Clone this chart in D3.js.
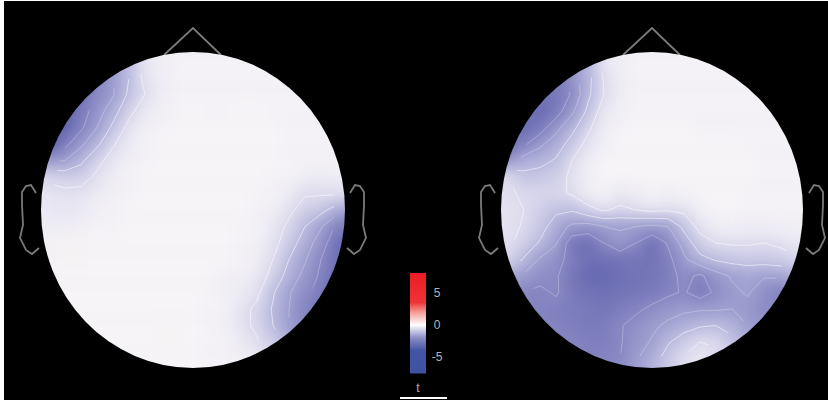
<!DOCTYPE html>
<html>
<head>
<meta charset="utf-8">
<script src="https://cdn.jsdelivr.net/npm/d3@7"></script>
<style>
  html, body { margin: 0; padding: 0; background: #000; }
  svg { display: block; }
  .cbar text { font-family: "Liberation Sans", Arial, sans-serif; font-size: 12px; fill: #b4b4b4; }
</style>
</head>
<body>
<div id="chart"></div>
<script>
// t values, one row per line, front of the head on top
var leftMap = [
  [-3.5,-4.0,-4.4,-4.6,-4.4,-3.0,-1.8,-0.5,-0.2,-0.1,-0.1,-0.1,-0.1,-0.1,-0.1,-0.1,-0.1,-0.1,-0.1,-0.1,-0.1],
  [-4.0,-4.4,-4.6,-4.6,-4.3,-3.0,-1.9,-0.6,-0.3,-0.1,-0.1,-0.1,-0.1,-0.1,-0.1,-0.1,-0.1,-0.1,-0.1,-0.1,-0.1],
  [-4.4,-4.8,-5.0,-4.8,-4.2,-3.0,-2.0,-0.7,-0.3,-0.1,-0.1,-0.1,-0.1,-0.1,-0.1,-0.1,-0.1,-0.1,-0.1,-0.1,-0.1],
  [-4.8,-5.0,-5.0,-4.8,-4.0,-3.1,-1.8,-1.0,-0.3,-0.1,-0.1,-0.1,-0.1,-0.1,-0.1,-0.1,-0.1,-0.1,-0.1,-0.1,-0.1],
  [-5.0,-5.0,-5.2,-4.5,-3.5,-2.4,-1.3,-0.4,-0.2,-0.1,0.0,-0.1,-0.1,0.0,0.0,-0.1,-0.1,-0.1,-0.1,-0.1,-0.1],
  [-5.5,-5.5,-5.3,-4.2,-3.0,-1.8,-0.7,-0.2,-0.1,0.0,0.0,0.0,0.0,0.0,0.0,0.0,-0.1,-0.1,-0.1,-0.1,-0.1],
  [-5.6,-5.6,-4.3,-3.2,-2.2,-1.1,-0.4,-0.1,0.0,0.0,0.0,0.0,0.0,0.0,0.0,0.0,-0.1,-0.1,-0.1,-0.1,-0.1],
  [-3.2,-3.2,-3.0,-2.2,-1.3,-0.6,-0.2,-0.1,0.0,0.0,0.0,0.0,0.0,0.0,0.0,0.0,-0.1,-0.1,-0.1,-0.1,-0.1],
  [-1.0,-1.2,-1.4,-1.4,-0.8,-0.3,-0.1,0.0,0.0,0.0,0.0,0.0,0.0,0.0,0.0,-0.1,-0.1,-0.3,-0.4,-0.3,-0.2],
  [-0.5,-0.7,-0.8,-0.7,-0.4,-0.2,-0.1,0.0,0.0,0.0,0.0,0.0,0.0,0.0,-0.1,-0.1,-0.4,-0.9,-0.9,-0.9,-0.8],
  [-0.4,-0.5,-0.6,-0.45,-0.2,-0.1,0.0,0.0,0.0,0.0,0.0,0.0,0.0,0.0,-0.1,-0.3,-0.8,-1.4,-1.7,-2.5,-3.0],
  [-0.2,-0.3,-0.3,-0.2,-0.1,-0.1,0.0,0.0,0.0,0.0,0.0,0.0,0.0,-0.1,-0.1,-0.5,-1.2,-2.0,-2.9,-4.2,-4.5],
  [-0.1,-0.1,0.1,0.1,0.0,0.0,0.0,0.0,0.0,0.0,0.0,0.0,0.0,-0.1,-0.2,-0.7,-1.5,-2.5,-3.5,-4.8,-5.0],
  [-0.1,-0.1,0.1,0.1,0.0,0.0,0.0,0.0,0.0,0.0,0.0,0.0,0.0,-0.1,-0.3,-1.0,-2.0,-2.9,-4.0,-4.8,-4.8],
  [-0.1,-0.1,0.0,0.0,0.0,0.0,0.0,0.0,0.0,0.0,0.0,0.0,-0.2,-0.2,-0.5,-1.3,-2.4,-3.3,-4.2,-5.0,-5.0],
  [-0.1,-0.1,0.0,0.0,0.0,0.0,0.0,0.0,0.0,0.0,0.0,-0.1,-0.2,-0.4,-0.8,-1.9,-2.9,-3.7,-4.5,-4.8,-4.8],
  [-0.1,-0.1,0.0,0.0,0.0,0.0,0.0,0.0,0.0,0.0,0.0,-0.1,-0.1,-0.7,-1.2,-2.1,-3.0,-4.2,-4.6,-4.6,-4.6],
  [-0.1,-0.1,0.0,0.0,0.0,0.0,0.0,0.0,0.1,0.1,0.0,-0.1,-0.2,-0.7,-1.2,-2.0,-3.0,-4.0,-4.2,-4.2,-4.2],
  [-0.1,-0.1,0.0,0.0,0.0,0.0,0.0,0.0,0.1,0.1,0.0,-0.1,-0.1,-0.4,-0.9,-1.5,-2.3,-3.0,-3.2,-3.2,-3.2],
  [-0.1,-0.1,0.0,0.0,0.0,0.0,0.0,0.0,0.0,0.0,0.0,-0.1,-0.1,-0.2,-0.4,-0.7,-1.2,-1.8,-2.0,-2.0,-2.0],
  [-0.1,-0.1,0.0,0.0,0.0,0.0,0.0,0.0,0.0,0.0,0.0,-0.1,-0.1,-0.2,-0.4,-0.7,-1.2,-1.8,-2.0,-2.0,-2.0]
];

var rightMap = [
  [-4.2,-4.4,-4.4,-4.4,-4.4,-3.5,-2.2,-0.5,-0.2,-0.1,-0.1,-0.1,-0.1,-0.1,-0.1,-0.1,-0.1,-0.1,-0.1,-0.1,-0.1],
  [-4.2,-4.4,-4.4,-4.4,-4.4,-3.5,-2.2,-0.6,-0.2,-0.1,-0.1,-0.1,-0.1,-0.1,-0.1,-0.1,-0.1,-0.1,-0.1,-0.1,-0.1],
  [-4.4,-4.5,-4.5,-4.5,-4.5,-3.5,-2.3,-0.9,-0.3,-0.1,-0.1,-0.1,-0.1,-0.1,-0.1,-0.1,-0.1,-0.1,-0.1,-0.1,-0.1],
  [-4.5,-4.6,-4.6,-4.6,-4.6,-3.9,-2.2,-1.0,-0.35,-0.1,-0.1,-0.1,-0.1,-0.1,-0.1,-0.1,-0.1,-0.1,-0.1,-0.1,-0.1],
  [-4.6,-4.6,-4.6,-5.0,-4.5,-3.2,-1.8,-0.5,-0.2,-0.1,-0.1,-0.1,-0.1,-0.1,-0.1,-0.1,-0.1,-0.1,-0.1,-0.1,-0.1],
  [-4.2,-4.2,-5.0,-4.5,-3.3,-2.3,-1.2,-0.3,-0.1,0.0,0.0,0.0,0.0,-0.1,-0.1,-0.1,-0.1,-0.1,-0.1,-0.1,-0.1],
  [-4.8,-5.0,-4.2,-3.2,-2.5,-1.6,-0.7,-0.2,0.0,0.0,0.0,0.0,0.0,0.0,0.0,0.0,-0.1,-0.1,-0.1,-0.1,-0.1],
  [-3.4,-3.4,-2.5,-2.3,-1.9,-1.0,-0.3,0.0,0.0,0.0,0.0,0.0,0.0,0.0,0.0,0.0,0.0,-0.1,-0.1,-0.1,-0.1],
  [-1.0,-1.0,-1.7,-1.6,-1.4,-0.8,-0.2,0.0,0.0,0.0,0.0,0.0,0.0,0.0,0.0,0.0,0.0,-0.1,-0.1,-0.1,-0.1],
  [-0.8,-0.9,-1.1,-1.2,-1.2,-0.9,-0.3,-0.1,-0.5,-0.3,-0.1,-0.2,-0.1,0.0,0.0,0.0,-0.1,-0.1,-0.1,-0.1,-0.1],
  [-0.7,-0.7,-1.0,-1.4,-1.8,-1.9,-1.3,-0.9,-1.2,-1.0,-0.8,-0.9,-0.8,-0.2,0.0,0.0,-0.1,-0.1,-0.1,-0.1,-0.1],
  [-0.7,-0.7,-1.1,-1.6,-2.5,-3.2,-3.4,-3.0,-2.9,-3.0,-3.2,-3.0,-1.7,-0.7,-0.3,-0.2,-0.3,-0.3,-0.2,-0.2,-0.2],
  [-0.8,-0.8,-1.4,-2.1,-2.9,-4.6,-4.8,-4.0,-3.3,-4.0,-4.8,-3.9,-2.6,-1.4,-1.0,-0.9,-0.9,-1.0,-0.8,-0.5,-0.5],
  [-1.2,-1.2,-2.1,-3.1,-3.6,-4.4,-4.8,-4.8,-4.7,-4.6,-4.7,-4.3,-3.2,-2.3,-1.9,-1.7,-1.6,-1.6,-1.5,-1.2,-1.2],
  [-2.6,-2.6,-3.2,-3.7,-3.9,-4.6,-5.0,-5.0,-4.8,-4.7,-4.6,-4.4,-3.7,-4.2,-3.4,-2.9,-2.7,-2.9,-2.8,-2.3,-2.3],
  [-3.8,-3.8,-4.0,-4.2,-3.9,-4.5,-4.7,-4.8,-4.7,-4.6,-4.5,-4.2,-3.9,-4.5,-3.8,-3.2,-2.9,-3.7,-4.3,-3.8,-3.8],
  [-4.2,-4.2,-4.2,-4.2,-4.3,-4.4,-4.5,-4.6,-4.4,-4.2,-3.8,-3.4,-3.2,-3.1,-3.1,-3.0,-3.3,-3.9,-3.9,-3.9,-3.9],
  [-4.2,-4.2,-4.2,-4.2,-4.2,-4.3,-4.5,-4.4,-4.1,-3.6,-3.2,-2.8,-2.4,-2.1,-2.0,-2.3,-3.0,-3.3,-3.3,-3.3,-3.3],
  [-4.2,-4.2,-4.2,-4.2,-4.2,-4.2,-4.3,-4.3,-4.1,-3.4,-2.9,-2.1,-1.5,-1.0,-1.1,-1.8,-2.4,-2.6,-2.6,-2.6,-2.6],
  [-4.2,-4.2,-4.2,-4.2,-4.2,-4.2,-4.2,-4.2,-4.0,-3.1,-2.4,-1.6,-0.9,-0.5,-0.8,-1.4,-2.0,-2.2,-2.2,-2.2,-2.2],
  [-4.2,-4.2,-4.2,-4.2,-4.2,-4.2,-4.2,-4.2,-4.0,-3.1,-2.4,-1.6,-0.9,-0.5,-0.8,-1.4,-2.0,-2.2,-2.2,-2.2,-2.2]
];

var contourLevels = [-1, -2, -3, -4];
var colorbarTicks = [5, 0, -5];

// the maps are paler than the bar in the picture, so each has its own ramp
var mapDomain = [-5.6, -5, -4, -3, -2, -1, 0, 1];
var mapRange = ["#5a5ca8", "#686ab2", "#8a8ac4", "#9e9ed0", "#bcbce0", "#dedcee", "#f6f4f7", "#f9e6e4"];
var barDomain = [-7.5, -4, -2, 0, 2, 3.5, 8.1];
var barRange = ["#3f51a3", "#4454a4", "#8c8ec6", "#ffffff", "#f59a94", "#ee3338", "#ec1c24"];

var svgWidth = 828;
var svgHeight = 400;

var svg = d3.select("#chart")
  .append("svg")
  .attr("width", svgWidth)
  .attr("height", svgHeight);

svg.append("rect").attr("width", svgWidth).attr("height", svgHeight).attr("fill", "#000");
// scan leftovers on the picture edge
svg.append("rect").attr("width", 4).attr("height", svgHeight).attr("fill", "#fff");
svg.append("rect").attr("width", svgWidth).attr("height", 1).attr("fill", "#fff");
svg.append("rect").attr("x", 400).attr("y", 397).attr("width", 47).attr("height", 2).attr("fill", "#fff");

var mapColor = d3.scaleLinear().domain(mapDomain).range(mapRange);
var barColor = d3.scaleLinear().domain(barDomain).range(barRange);

var defs = svg.append("defs");
var blur = defs.append("filter").attr("id", "smooth")
  .attr("x", "-5%").attr("y", "-5%").attr("width", "110%").attr("height", "110%")
  .attr("color-interpolation-filters", "sRGB");
blur.append("feGaussianBlur").attr("stdDeviation", 7);

// ear outline, offsets from the head centre going outward
var earShape = [[157,-17],[162,-25],[167,-24],[171,-18],[171,-5],[170,15],[173,28],[167,40],[161,44],[154,38]];

function drawHead(name, grid, cx, cy, rx, ry) {
  var g = svg.append("g");
  var n = grid.length;
  var x = d3.scaleLinear().domain([0, n - 1]).range([cx - 160, cx + 160]);
  var y = d3.scaleLinear().domain([0, n - 1]).range([cy - 165, cy + 165]);
  var cellW = x(1) - x(0);
  var cellH = y(1) - y(0);

  // nose and ears go under the head
  var line = d3.line();
  var outline = g.append("g").attr("fill", "none").attr("stroke", "#7a7a7a").attr("stroke-width", 1.8);
  outline.append("path").attr("d", line([[cx - 29, cy - 155], [cx, cy - 182], [cx + 28, cy - 155]]));
  outline.append("path").attr("d", line(earShape.map(d => [cx - d[0], cy + d[1]])));
  outline.append("path").attr("d", line(earShape.map(d => [cx + d[0], cy + d[1]])));

  defs.append("clipPath").attr("id", "head-" + name)
    .append("ellipse").attr("cx", cx).attr("cy", cy).attr("rx", rx).attr("ry", ry);
  defs.append("clipPath").attr("id", "inner-" + name)
    .append("ellipse").attr("cx", cx).attr("cy", cy).attr("rx", rx * 0.93).attr("ry", ry * 0.93);

  var cells = [];
  grid.forEach(function(row, r) {
    row.forEach(function(v, c) { cells.push({r: r, c: c, v: v}); });
  });

  g.append("g").attr("clip-path", `url(#head-${name})`)
    .append("g").attr("filter", "url(#smooth)")
    .selectAll("rect")
    .data(cells)
    .enter()
    .append("rect")
    .attr("x", d => x(d.c) - cellW / 2)
    .attr("y", d => y(d.r) - cellH / 2)
    .attr("width", cellW + 0.5)
    .attr("height", cellH + 0.5)
    .attr("fill", d => mapColor(d.v));

  // contour lines from the same grid
  var contours = d3.contours().size([n, n]).smooth(true).thresholds(contourLevels)(grid.flat());
  var project = d3.geoTransform({
    point: function(px, py) { this.stream.point(x(px - 0.5), y(py - 0.5)); }
  });
  g.append("g").attr("clip-path", `url(#inner-${name})`)
    .selectAll("path")
    .data(contours)
    .enter()
    .append("path")
    .attr("d", d3.geoPath(project))
    .attr("fill", "none")
    .attr("stroke", "#fff")
    .attr("stroke-opacity", d => d.value <= -3 ? 0.3 : 0.6)
    .attr("stroke-width", 0.9);
}

drawHead("left", leftMap, 193, 210, 152, 158);
drawHead("right", rightMap, 652, 210, 151, 158);

// colorbar
var barY = d3.scaleLinear().domain([8.1, -7.5]).range([273, 373]);
var cbar = svg.append("g").attr("class", "cbar");
cbar.selectAll("rect")
  .data(d3.range(273, 373))
  .enter()
  .append("rect")
  .attr("x", 410)
  .attr("y", d => d)
  .attr("width", 16)
  .attr("height", 1.5)
  .attr("fill", d => barColor(barY.invert(d + 0.5)));

var barAxis = d3.axisRight(barY).tickValues(colorbarTicks).tickSize(0).tickPadding(11)
  .tickFormat(d => d < 0 ? "-" + Math.abs(d) : d);
cbar.append("g")
  .attr("transform", "translate(426,0)")
  .call(barAxis)
  .call(a => a.select(".domain").remove())
  .call(a => a.selectAll("text").attr("text-anchor", "middle"));

cbar.append("text")
  .attr("x", 418)
  .attr("y", 392)
  .attr("text-anchor", "middle")
  .text("t");
</script>
</body>
</html>
